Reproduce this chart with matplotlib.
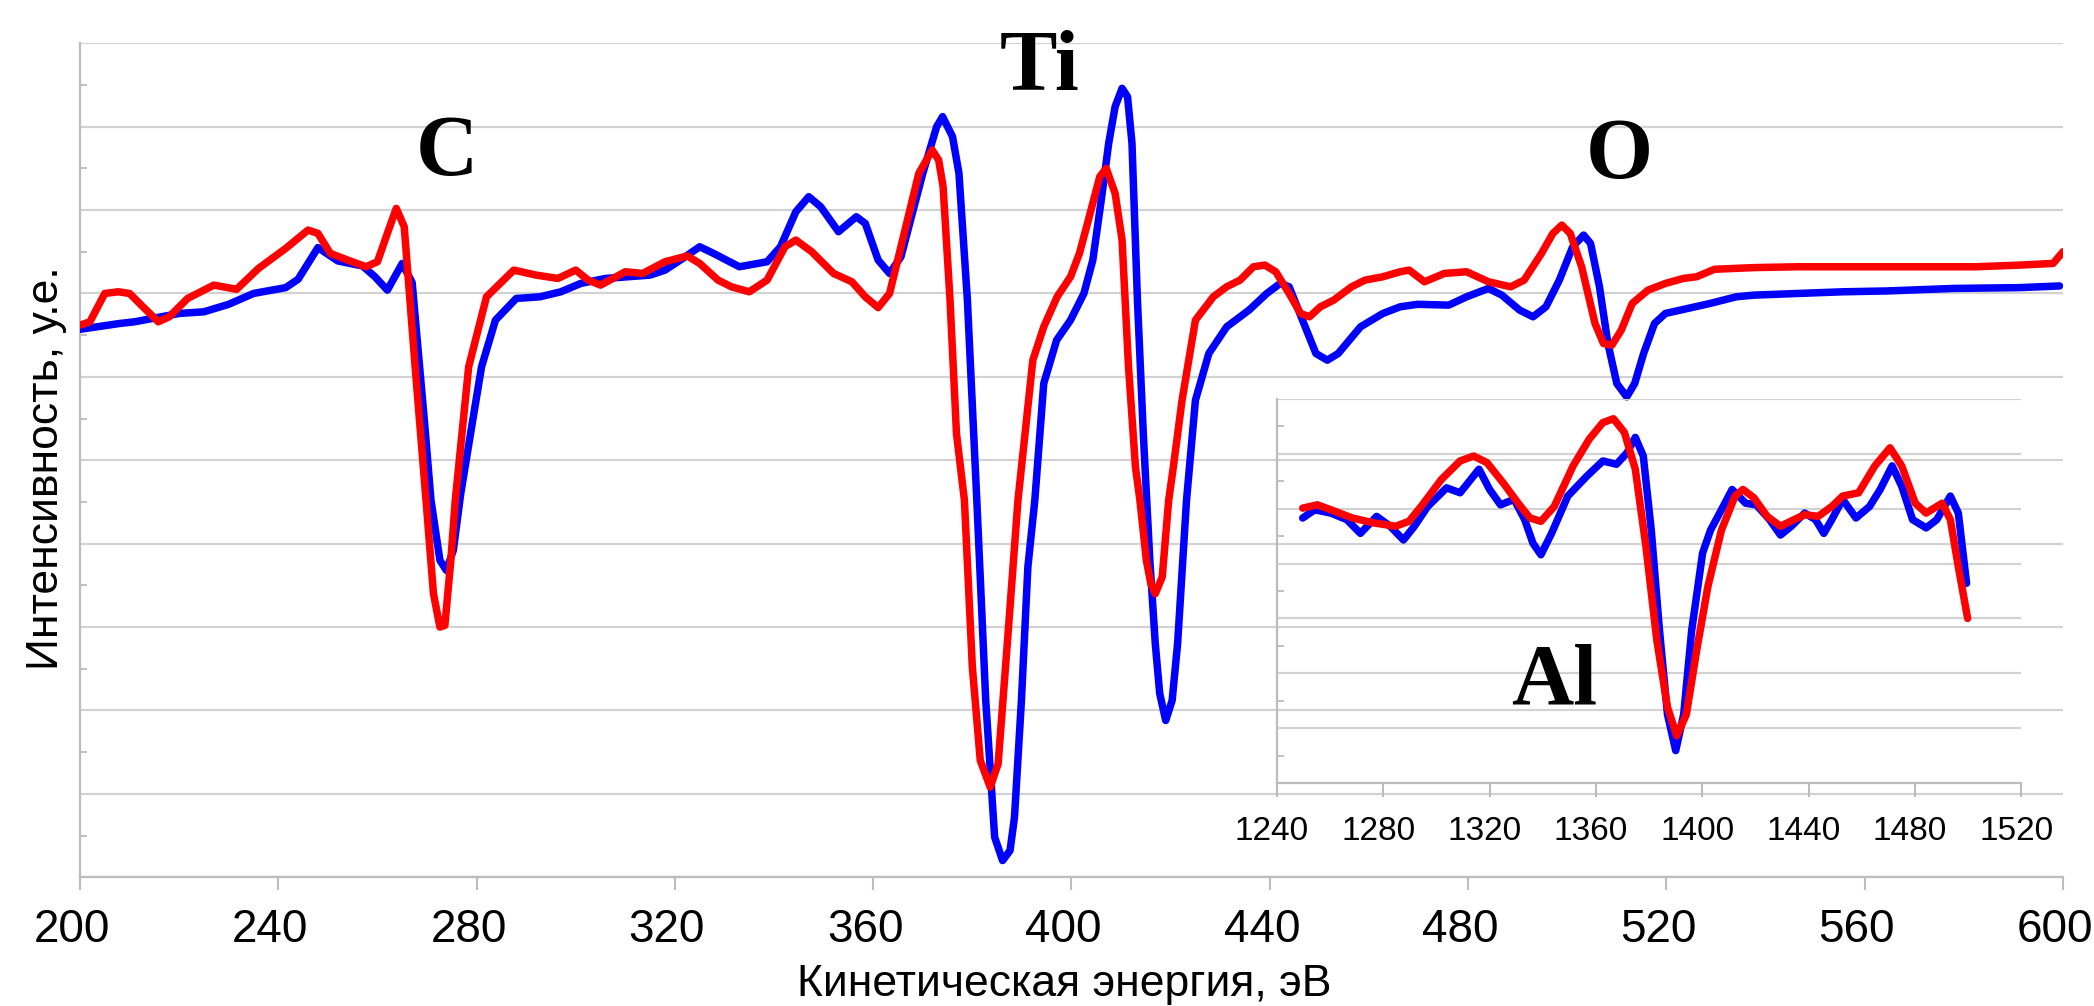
import numpy as np
import matplotlib
matplotlib.use("Agg")
import matplotlib.pyplot as plt
import matplotlib.transforms as mtransforms
from matplotlib.ticker import MultipleLocator

plt.rcParams['font.family'] = ['Liberation Sans', 'DejaVu Sans']

# main spectrum (200-600 eV), arbitrary units 0..10
blue_e = [200, 208, 211, 220, 225, 230, 235, 241.5, 244, 248, 252, 257, 259.5, 262, 265, 267,
          269.4, 270.8, 272.6, 273.9, 275.3, 276.8, 279, 281, 283.8, 288, 292.8, 297, 301, 306,
          315, 318, 321.6, 325, 327.8, 333, 338.6, 341.3, 344.4, 347, 349.4, 353, 356.6, 358.4,
          361, 363.3, 365.6, 370, 372.8, 374, 376, 377.3, 379, 380.9, 382.7, 384.5, 386.1, 387.6,
          388.5, 389.9, 391.2, 392.6, 394.4, 397, 399.8, 402.5, 404.3, 406, 407.5, 408.8, 410.2,
          411.3, 412.2, 413.3, 414.5, 415.8, 416.9, 417.8, 419, 420.3, 421.4, 423.2, 425, 427.7,
          431.3, 435.8, 439.4, 442.1, 443.9, 446.6, 449.3, 451.6, 453.8, 458.3, 462.8, 466.3,
          469.8, 476.1, 479.7, 484.1, 486.8, 490.4, 493.1, 495.7, 498.4, 501.1, 503.3, 504.7,
          506.5, 508.2, 510, 512, 513.6, 515.4, 517.6, 519.8, 524.3, 528.8, 534.1, 537.7, 546.6,
          555.6, 564.5, 577.9, 591.3, 599.3]
blue_y = [6.57, 6.64, 6.66, 6.76, 6.78, 6.87, 7.0, 7.07, 7.17, 7.55, 7.39, 7.33, 7.2, 7.04, 7.36, 7.13,
          5.52, 4.52, 3.8, 3.68, 3.92, 4.6, 5.4, 6.12, 6.68, 6.94, 6.96, 7.02, 7.12, 7.18,
          7.22, 7.28, 7.42, 7.56, 7.48, 7.32, 7.38, 7.56, 7.98, 8.16, 8.04, 7.74, 7.92, 7.84,
          7.4, 7.24, 7.44, 8.44, 9.0, 9.12, 8.88, 8.44, 6.92, 4.52, 2.12, 0.48, 0.2, 0.32,
          0.72, 2.12, 3.72, 4.52, 5.92, 6.44, 6.68, 7.0, 7.4, 8.12, 8.8, 9.24, 9.46,
          9.36, 8.8, 6.92, 5.3, 3.8, 2.8, 2.2, 1.88, 2.12, 2.8, 4.52, 5.72, 6.28,
          6.6, 6.8, 7.0, 7.12, 7.08, 6.68, 6.28, 6.2, 6.28, 6.6, 6.76, 6.84,
          6.87, 6.86, 6.96, 7.06, 6.98, 6.8, 6.72, 6.84, 7.16, 7.56, 7.7, 7.6,
          7.08, 6.4, 5.92, 5.76, 5.92, 6.28, 6.64, 6.76, 6.82, 6.88, 6.96, 6.98, 7.0,
          7.02, 7.03, 7.06, 7.07, 7.09]

red_e = [200, 202, 205, 207.7, 210, 212.7, 215.8, 218, 221.7, 227, 231.6, 236, 241.5, 246, 248,
         250.5, 254, 257.7, 260, 262, 263.8, 265.4, 267.6, 269.8, 271.3, 272.6, 273.6, 274.8,
         275.7, 278.4, 282, 287.5, 292, 296.4, 300, 302.5, 305, 310, 313.5, 318, 322.5, 325,
         328.7, 331.4, 335, 338.6, 342.2, 344.4, 347.6, 352, 355.7, 358.4, 361, 363.3, 365.6,
         369.2, 371.9, 373.2, 374.1, 375.5, 376.8, 378.4, 380, 381.6, 383.6, 385.2, 387.2,
         389.2, 392.2, 394.4, 397.1, 399.8, 401.6, 403.4, 405.7, 407, 408.8, 410.2, 411.5,
         412.9, 413.8, 415.1, 416, 416.9, 418.3, 419.6, 420.5, 422.3, 425, 428.6, 431.3, 434,
         436.7, 439, 441.2, 443.9, 446.2, 448, 450.2, 452.9, 456.5, 459.2, 462.8, 466.3, 468.1,
         471.2, 475.2, 479.7, 484.1, 488.6, 491.3, 494.8, 497.1, 498.9, 500.6, 502.9, 505.6,
         507.3, 509, 510.9, 513.1, 516.3, 519.8, 523.4, 526.1, 529.7, 537.7, 546.6, 582.3,
         591.3, 598, 600]
red_y = [6.62, 6.66, 7.0, 7.02, 7.0, 6.84, 6.66, 6.72, 6.94, 7.1, 7.05, 7.3, 7.54, 7.76, 7.72,
         7.48, 7.4, 7.32, 7.38, 7.72, 8.02, 7.8, 6.12, 4.52, 3.4, 3.0, 3.02, 3.8,
         4.52, 6.12, 6.96, 7.28, 7.22, 7.18, 7.28, 7.16, 7.1, 7.26, 7.24, 7.38, 7.45, 7.36,
         7.16, 7.08, 7.02, 7.16, 7.56, 7.64, 7.5, 7.24, 7.14, 6.96, 6.83, 7.0, 7.56,
         8.44, 8.72, 8.6, 8.28, 6.92, 5.32, 4.52, 2.52, 1.4, 1.08, 1.36, 2.92,
         4.52, 6.2, 6.6, 6.96, 7.2, 7.48, 7.88, 8.4, 8.5, 8.2, 7.64, 6.12,
         4.92, 4.52, 3.8, 3.52, 3.4, 3.6, 4.52, 4.9, 5.72, 6.68, 6.96, 7.08, 7.16,
         7.32, 7.34, 7.26, 7.0, 6.76, 6.72, 6.84, 6.92, 7.08, 7.16, 7.2, 7.26, 7.28,
         7.14, 7.24, 7.26, 7.14, 7.08, 7.16, 7.48, 7.72, 7.82, 7.72, 7.32, 6.64,
         6.4, 6.38, 6.56, 6.88, 7.04, 7.12, 7.18, 7.2, 7.29, 7.31, 7.32, 7.32,
         7.34, 7.36, 7.5]

# inset spectrum (Al, 1240-1520 eV), arbitrary units 0..7
ins_blue_e = [1249.7, 1254.2, 1260.3, 1266.3, 1271.4, 1277.5, 1282.6, 1287.6, 1291.7, 1296.7, 1303.8,
              1308.9, 1316, 1320, 1324.1, 1329.2, 1333.2, 1336.3, 1339.3, 1343.3, 1349.4, 1356.5,
              1362.6, 1367.7, 1371.7, 1374.8, 1377.8, 1380.8, 1383.9, 1386.9, 1390, 1393, 1396,
              1400.1, 1403.1, 1407.2, 1411.2, 1416.3, 1420.3, 1425.3, 1429.4, 1433.5, 1438.5,
              1442.6, 1445.7, 1448.7, 1452.8, 1457.8, 1462.9, 1466.9, 1471.4, 1475, 1479.1,
              1484.2, 1488.2, 1493.3, 1496.3, 1499.4]
ins_blue_y = [4.83, 4.98, 4.92, 4.8, 4.55, 4.86, 4.68, 4.43, 4.68, 5.04, 5.38,
              5.29, 5.72, 5.35, 5.07, 5.17, 4.8, 4.37, 4.16, 4.55, 5.23, 5.59,
              5.87, 5.81, 6.02, 6.3, 5.96, 4.61, 2.78, 1.25, 0.59, 1.25, 2.78,
              4.19, 4.61, 4.98, 5.35, 5.1, 5.07, 4.8, 4.52, 4.68, 4.92,
              4.8, 4.55, 4.8, 5.17, 4.83, 5.04, 5.35, 5.78, 5.41, 4.8,
              4.65, 4.8, 5.23, 4.92, 3.64]

ins_red_e = [1249.7, 1255.2, 1260.3, 1268.4, 1276.5, 1284.6, 1289.7, 1294.7, 1301.8, 1308.9, 1314,
             1319, 1325.1, 1331.2, 1335.2, 1339.3, 1344.3, 1351.4, 1357.5, 1362.6, 1366.6, 1370.7,
             1374.8, 1378.8, 1382.9, 1386.9, 1390.4, 1394, 1398.1, 1402.1, 1407.2, 1412.3, 1415.3,
             1419.4, 1424.4, 1429.4, 1434.5, 1438.5, 1443.6, 1448.7, 1452.8, 1458.8, 1464.9,
             1470.6, 1475, 1480.1, 1484.2, 1490.2, 1493.3, 1496.3, 1499.8]
ins_red_y = [5.01, 5.07, 4.98, 4.83, 4.74, 4.68, 4.77, 5.07, 5.53, 5.87, 5.96,
             5.84, 5.47, 5.07, 4.83, 4.77, 5.04, 5.78, 6.27, 6.57, 6.64, 6.39,
             5.72, 4.31, 2.6, 1.38, 0.86, 1.25, 2.48, 3.58, 4.61, 5.23, 5.35,
             5.2, 4.86, 4.68, 4.8, 4.89, 4.86, 5.04, 5.23, 5.29, 5.78,
             6.11, 5.78, 5.1, 4.92, 5.1, 4.8, 3.94, 3.0]

main_ticks = np.arange(200, 601, 40)
inset_ticks = np.arange(1240, 1521, 40)

grid_c = '#d2d2d2'
axis_c = '#bcbcbc'
line_kw = dict(lw=5.4, solid_capstyle='round', solid_joinstyle='round')

fig = plt.figure(figsize=(20.94, 10.06), dpi=100)
ax = fig.add_axes([0.0382, 0.128, 0.947, 0.829])

ax.plot(blue_e, blue_y, color='#0000ff', zorder=3, **line_kw)
ax.plot(red_e, red_y, color='#ff0000', zorder=4, **line_kw)

ax.set_xlim(200, 600)
ax.set_ylim(0, 10)
ax.set_xticks(main_ticks)
ax.yaxis.set_major_locator(MultipleLocator(1))
ax.yaxis.set_minor_locator(MultipleLocator(0.5))
ax.set_yticklabels([])
ax.grid(axis='y', which='major', color=grid_c, lw=1.6)
ax.tick_params(axis='x', direction='out', length=9.5, width=1.5, color=axis_c,
               labelsize=33, pad=13)
ax.tick_params(axis='y', which='major', length=0)
ax.tick_params(axis='y', which='minor', direction='in', length=5, width=1.3, color=axis_c)
for s in ['top', 'right']:
    ax.spines[s].set_visible(False)
for s in ['left', 'bottom']:
    ax.spines[s].set_color(axis_c)
    ax.spines[s].set_linewidth(1.6)

# inset with the Al peak
ins = fig.add_axes([0.6098, 0.2217, 0.3555, 0.3817])
ins.patch.set_alpha(0)
ins.plot(ins_blue_e, ins_blue_y, color='#0000ff', zorder=3, **line_kw)
ins.plot(ins_red_e, ins_red_y, color='#ff0000', zorder=4, **line_kw)
ins.set_xlim(1240, 1520)
ins.set_ylim(0, 7)
ins.set_xticks(inset_ticks)
ins.yaxis.set_major_locator(MultipleLocator(1))
ins.yaxis.set_minor_locator(MultipleLocator(0.5))
ins.set_yticklabels([])
ins.grid(axis='y', which='major', color=grid_c, lw=1.6)
ins.tick_params(axis='x', direction='out', length=10, width=1.5, color=axis_c,
                labelsize=24, pad=13.5)
ins.tick_params(axis='y', which='major', length=0)
ins.tick_params(axis='y', which='minor', direction='in', length=5, width=1.3, color=axis_c)
for s in ['top', 'right']:
    ins.spines[s].set_visible(False)
for s in ['left', 'bottom']:
    ins.spines[s].set_color(axis_c)
    ins.spines[s].set_linewidth(1.6)

# tick labels sit slightly left of their ticks in the original
for a, dx in [(ax, -8), (ins, -5)]:
    shift = mtransforms.ScaledTranslation(dx / 100, 0, fig.dpi_scale_trans)
    for lbl in a.get_xticklabels():
        lbl.set_transform(lbl.get_transform() + shift)

el_font = dict(family=['Liberation Serif', 'DejaVu Serif'], fontweight='bold', fontsize=62,
               ha='center', va='center')
ax.text(274, 8.67, 'C', **el_font)
ax.text(393.6, 9.68, 'Ti', **el_font)
ax.text(510.4, 8.63, 'O', **el_font)
ins.text(1344.4, 1.83, 'Al', **el_font)

fig.text(0.508, 0.021, 'Кинетическая энергия, эВ', fontsize=32, ha='center', va='center')
fig.text(0.0224, 0.5343, 'Интенсивность, у.е.', fontsize=32, rotation=90,
         ha='center', va='center')

fig.savefig('out.png', dpi=100)
